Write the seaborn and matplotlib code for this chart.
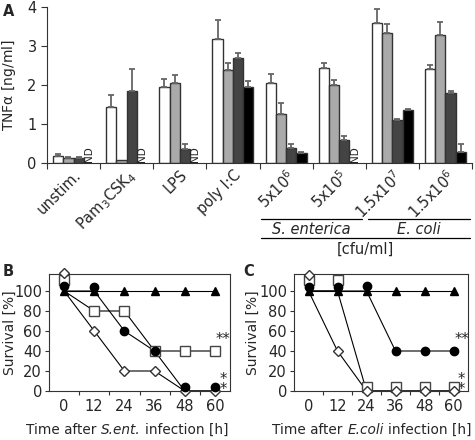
import numpy as np
import pandas as pd
import matplotlib
matplotlib.use("Agg")
import matplotlib.pyplot as plt
import matplotlib.transforms as mtransforms
from matplotlib.lines import Line2D
import seaborn as sns

sns.set_style("ticks")
plt.rcParams["font.family"] = ["DejaVu Sans"]
plt.rcParams["mathtext.fontset"] = "dejavusans"
plt.rcParams["mathtext.default"] = "regular"
plt.rcParams["font.size"] = 10

# ---------------- Panel A data ----------------
groups = ["unstim.", "Pam$_3$CSK$_4$", "LPS", "poly I:C",
          "5x10$^6$", "5x10$^5$", "1.5x10$^7$", "1.5x10$^6$"]
series = ["s1", "s2", "s3", "s4"]
val_s1 = [0.18, 1.43, 1.94, 3.18, 2.06, 2.43, 3.58, 2.41]
val_s2 = [0.13, 0.08, 2.06, 2.38, 1.25, 1.99, 3.34, 3.28]
val_s3 = [0.14, 1.85, 0.35, 2.70, 0.39, 0.59, 1.10, 1.79]
val_s4 = [np.nan, np.nan, np.nan, 1.96, 0.26, np.nan, 1.36, 0.29]
err_s1 = [0.06, 0.32, 0.21, 0.49, 0.23, 0.14, 0.37, 0.10]
err_s2 = [0.02, 0.00, 0.20, 0.19, 0.30, 0.14, 0.22, 0.34]
err_s3 = [0.02, 0.55, 0.15, 0.11, 0.10, 0.11, 0.02, 0.05]
err_s4 = [np.nan, np.nan, np.nan, 0.13, 0.03, np.nan, 0.02, 0.19]
bar_colors = ["#ffffff", "#aaaaaa", "#444444", "#000000"]

# ---------------- Panel B / C data ----------------
times = [0, 12, 24, 36, 48, 60]
B_tri = [100, 100, 100, 100, 100, 100]
B_cir = [100, 100, 60, 40, 0, 0]
B_sq = [100, 80, 80, 40, 40, 40]
B_dia = [100, 60, 20, 20, 0, 0]
C_tri = [100, 100, 100, 100, 100, 100]
C_cir = [100, 100, 100, 40, 40, 40]
C_sq = [100, 100, 0, 0, 0, 0]
C_dia = [100, 40, 0, 0, 0, 0]

W, H = 475, 440
fig = plt.figure(figsize=(W / 100, H / 100), dpi=100)
renderer = fig.canvas.get_renderer()

def ax_px(l, t, r, b):
    return fig.add_axes([l / W, 1 - b / H, (r - l) / W, (b - t) / H])

FS = 10.5
YL_FS = 10
TICK_FS = 10.5
XL_FS = 9.8

def rich_text(xc_px, yc_px, pieces, fs):
    """Draw text pieces (text, italic) side by side, centred at a pixel point."""
    probe1 = fig.text(0, 0, "xx", fontsize=fs)
    probe2 = fig.text(0, 0, "x x", fontsize=fs)
    space = (probe2.get_window_extent(renderer).width
             - probe1.get_window_extent(renderer).width)
    probe1.remove()
    probe2.remove()
    texts, widths = [], []
    for s, it in pieces:
        t = fig.text(0, 1 - yc_px / H, s, fontsize=fs,
                     style="italic" if it else "normal",
                     ha="left", va="center")
        texts.append(t)
        widths.append(t.get_window_extent(renderer).width)
    total = sum(widths) + space * (len(pieces) - 1)
    x = xc_px - total / 2
    for t, w in zip(texts, widths):
        t.set_x(x / W)
        x += w + space

# ================= Panel A =================
axA = ax_px(47, 7, 472, 163)
vals = [val_s1, val_s2, val_s3, val_s4]
errs = [err_s1, err_s2, err_s3, err_s4]
rows = []
for s, v, e in zip(series, vals, errs):
    for g, vv, ee in zip(groups, v, e):
        rows.append({"group": g, "series": s, "value": vv, "err": ee})
dfA = pd.DataFrame(rows)
dfA_plot = dfA.dropna(subset=["value"])
BW = 0.77
sns.barplot(data=dfA_plot, x="group", y="value", hue="series",
            order=groups, hue_order=series, palette=bar_colors,
            width=BW, gap=0, errorbar=None, edgecolor="#333333",
            linewidth=1.0, legend=False, ax=axA)
n = len(series)
bw = BW / n
for p in axA.patches:
    cx = p.get_x() + p.get_width() / 2
    g = int(round(cx))
    h = int(round((cx - g + BW / 2) / bw - 0.5))
    ht = p.get_height()
    e = errs[h][g]
    if e and not np.isnan(e) and e > 0:
        axA.errorbar(cx, ht, yerr=[[0], [e]], fmt="none", ecolor="#666666",
                     elinewidth=1.3, capsize=2.5, capthick=1.3, zorder=1)
for gi, v in enumerate(val_s4):
    if np.isnan(v):
        x = gi - BW / 2 + bw * 3.5
        axA.text(x, 0.03, "ND", rotation=90, ha="center", va="bottom",
                 fontsize=7.5, color="#222222")
axA.set_xlim(-0.5, len(groups) - 0.5)
axA.set_ylim(0, 4)
axA.set_yticks([0, 1, 2, 3, 4])
axA.set_xticks(range(len(groups)))
axA.set_xticklabels(groups, rotation=45, ha="right", rotation_mode="anchor",
                    fontsize=FS)
axA.set_xticks(np.arange(-0.5, len(groups), 1.0), minor=True)
axA.tick_params(axis="x", which="major", length=0, pad=3)
axA.tick_params(axis="x", which="minor", length=4, width=0.8, color="#333333")
axA.tick_params(axis="y", length=4, width=0.8, labelsize=TICK_FS, color="#333333")
axA.set_xlabel("")
axA.set_ylabel("TNF$\\alpha$ [ng/ml]", fontsize=YL_FS)
axA.yaxis.set_label_coords((18 - 47) / 425, 0.5)
for s in ["top", "right"]:
    axA.spines[s].set_visible(False)
for s in ["left", "bottom"]:
    axA.spines[s].set_color("#333333")
    axA.spines[s].set_linewidth(0.8)

blend = mtransforms.blended_transform_factory(axA.transData, fig.transFigure)
def hline(x0, x1, ypx):
    fig.add_artist(Line2D([x0, x1], [1 - ypx / H] * 2, transform=blend,
                          color="black", lw=0.9))
hline(3.52, 5.43, 219)
hline(5.55, 7.47, 219)
hline(3.52, 7.47, 238)
fig.text(4.48, 1 - 229 / H, "S. enterica", transform=blend, style="italic",
         ha="center", va="center", fontsize=FS)
fig.text(6.5, 1 - 229 / H, "E. coli", transform=blend, style="italic",
         ha="center", va="center", fontsize=FS)
fig.text(5.5, 1 - 249 / H, "[cfu/ml]", transform=blend,
         ha="center", va="center", fontsize=FS)

fig.text(3 / W, 1 - 12 / H, "A", fontweight="bold", fontsize=10.5, ha="left", va="center")
fig.text(3 / W, 1 - 272 / H, "B", fontweight="bold", fontsize=10.5, ha="left", va="center")
fig.text(243 / W, 1 - 272 / H, "C", fontweight="bold", fontsize=10.5, ha="left", va="center")

# ================= Panels B & C =================
marker_styles = {
    "tri": dict(marker="^", mfc="black", mec="black", ms=6),
    "cir": dict(marker="o", mfc="black", mec="black", ms=6),
    "sq": dict(marker="s", mfc="white", mec="#444444", ms=6.5, mew=1.0),
    "dia": dict(marker="D", mfc="white", mec="#333333", ms=5, mew=1.0),
}

def survival(ax, data, lifts, ylab_x, stars2, stars1):
    for key in ["tri", "sq", "dia", "cir"]:
        df = pd.DataFrame({"time": times, "surv": data[key]})
        sns.lineplot(data=df, x="time", y="surv", ax=ax, color="black",
                     lw=0.8, zorder=2)
    for key in ["sq", "dia", "cir", "tri"]:
        for t, v, lf in zip(times, data[key], lifts[key]):
            tr = mtransforms.offset_copy(ax.transData, fig=fig, x=0, y=lf,
                                         units="dots")
            ax.plot([t], [v], transform=tr, ls="none", clip_on=False,
                    zorder=5 if key != "tri" else 4, **marker_styles[key])
    ax.set_xlim(-6, 66)
    ax.set_ylim(0, 117)
    ax.set_yticks([0, 20, 40, 60, 80, 100])
    ax.set_xticks(times)
    ax.set_xticks([6, 18, 30, 42, 54], minor=True)
    ax.tick_params(axis="x", which="major", length=0, pad=6, labelsize=TICK_FS)
    ax.tick_params(axis="x", which="minor", length=3, width=0.8, color="#333333")
    ax.tick_params(axis="y", length=3, width=0.8, labelsize=TICK_FS, pad=2,
                   color="#333333")
    for s in ax.spines.values():
        s.set_color("#333333")
        s.set_linewidth(0.8)
    ax.set_xlabel("")
    ax.set_ylabel("Survival [%]", fontsize=YL_FS)
    ax.yaxis.set_label_coords(ylab_x, 0.5)
    tr2 = mtransforms.offset_copy(ax.transData, fig=fig, x=1, y=4, units="dots")
    ax.text(stars2[0], stars2[1], "**", transform=tr2, ha="left", va="bottom",
            fontsize=10.5)
    tr1 = mtransforms.offset_copy(ax.transData, fig=fig, x=8, y=-6, units="dots")
    ax.text(stars1[0], stars1[1], "*\n*", transform=tr1, ha="center",
            va="bottom", fontsize=10.5, linespacing=0.55)

axB = ax_px(49, 274, 230, 391)
survival(axB, {"tri": B_tri, "cir": B_cir, "sq": B_sq, "dia": B_dia},
         {"tri": [0] * 6, "cir": [5, 4, 0, 0, 4, 4], "sq": [11, 0, 0, 0, 0, 0],
          "dia": [18, 0, 0, 0, 0, 0]},
         (17 - 49) / 181, (60, 40), (60, 0))

axC = ax_px(294, 274, 468, 391)
survival(axC, {"tri": C_tri, "cir": C_cir, "sq": C_sq, "dia": C_dia},
         {"tri": [0] * 6, "cir": [4, 4, 5, 0, 0, 0], "sq": [11, 11, 4, 4, 4, 4],
          "dia": [16, 0, 0, 0, 0, 0]},
         (260 - 294) / 174, (60, 40), (60, 0))

rich_text(127, 430, [("Time after", False), ("S.ent.", True),
                     ("infection [h]", False)], XL_FS)
rich_text(372, 430, [("Time after", False), ("E.coli", True),
                     ("infection [h]", False)], XL_FS)

fig.savefig("out.png", dpi=100)
